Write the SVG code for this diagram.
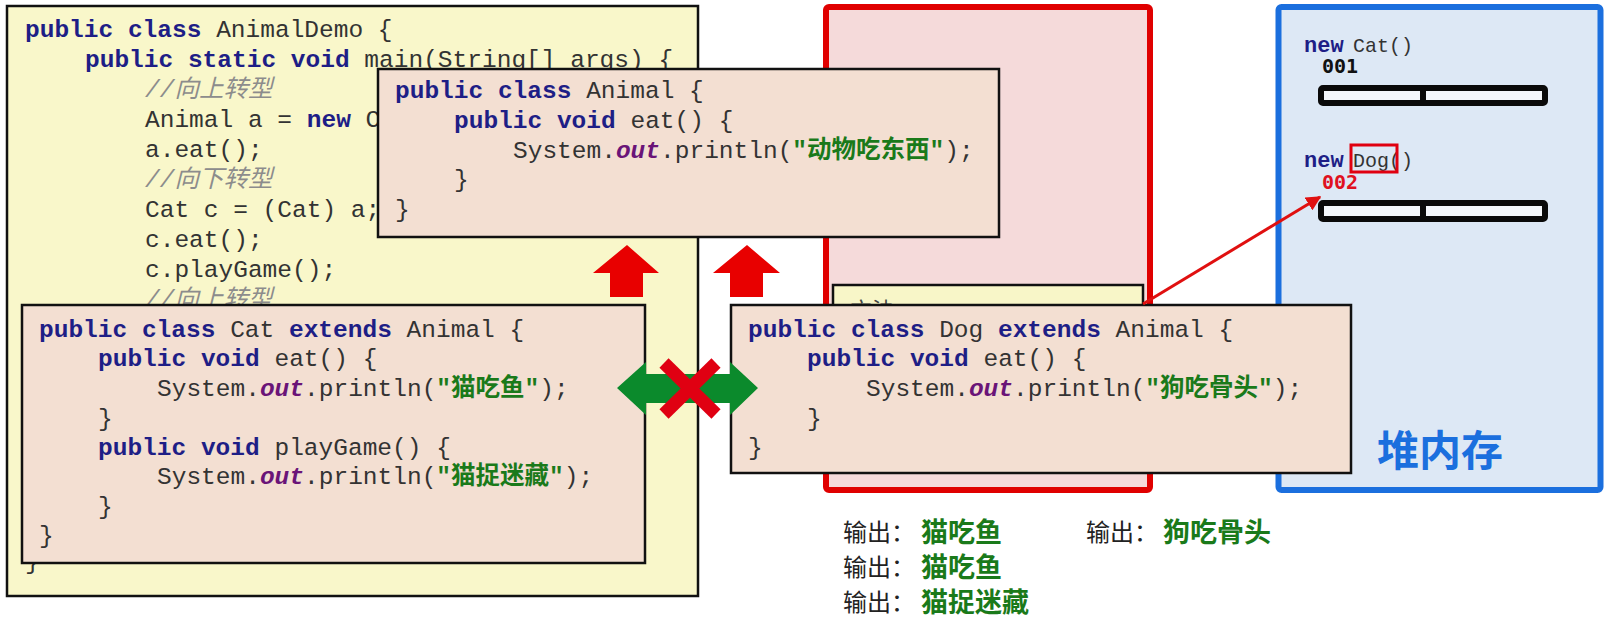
<svg xmlns="http://www.w3.org/2000/svg" width="1605" height="619" viewBox="0 0 1605 619">
<defs>
<style>
.box{stroke:#111;stroke-width:2.5}
.code{font-family:"Liberation Mono","Noto Sans CJK SC",monospace;font-size:24.5px;fill:#333}
.kw{font-weight:bold;fill:#1e1e86}
.o{font-weight:bold;font-style:italic;fill:#6a1478}
.s{font-weight:bold;fill:#1a7a1a}
.cm{font-style:italic;fill:#8c8c8c}
.lbl{font-family:"Noto Sans CJK SC",sans-serif;font-size:24px;fill:#222}
.res{font-family:"Noto Sans CJK SC",sans-serif;font-size:27px;font-weight:bold;fill:#1a7a1a}
.bar{fill:#f4f7fb;stroke:#0a0a0a;stroke-width:6}
.div{stroke:#0a0a0a;stroke-width:6}
.hn{font-family:"Liberation Mono",monospace;font-weight:bold;font-size:22px;fill:#1e1e86}
.hc{font-family:"Liberation Mono",monospace;font-size:21px;fill:#333}
.addr{font-family:"DejaVu Sans Mono",monospace;font-weight:bold;font-size:20px}
</style>
<marker id="ah" viewBox="0 0 10 10" refX="9" refY="5" markerWidth="5" markerHeight="5" orient="auto"><path d="M0,0 L10,5 L0,10 z" fill="#e01010"/></marker>
<clipPath id="hideMethod"><rect x="833" y="285" width="310" height="20"/></clipPath>
</defs>
<rect width="1605" height="619" fill="#ffffff"/>

<g id="animal-demo">
<rect class="box" x="7" y="6" width="691" height="590" fill="#f9f7ca"/>
<text class="code" x="25" y="37"><tspan class="kw">public class</tspan> AnimalDemo {</text>
<text class="code" x="85" y="67"><tspan class="kw">public static void</tspan> main(String[] args) {</text>
<text class="code cm" x="145" y="97">//向上转型</text>
<text class="code" x="145" y="127">Animal a = <tspan class="kw">new</tspan> Cat();</text>
<text class="code" x="145" y="157">a.eat();</text>
<text class="code cm" x="145" y="187">//向下转型</text>
<text class="code" x="145" y="217">Cat c = (Cat) a;</text>
<text class="code" x="145" y="247">c.eat();</text>
<text class="code" x="145" y="277">c.playGame();</text>
<text class="code cm" x="145" y="307">//向上转型</text>
<text class="code" x="25" y="569">}</text>
</g>

<g id="method-area">
<rect x="826" y="7" width="324" height="483" rx="3" fill="#f5dada" stroke="#e00000" stroke-width="6"/>
<rect class="box" x="833" y="285" width="310" height="60" fill="#f8f6c8"/>
<text x="850" y="318" font-family="Noto Sans CJK SC, sans-serif" font-size="22" fill="#444" clip-path="url(#hideMethod)">方法</text>
</g>

<g id="heap">
<rect x="1278.5" y="7" width="322" height="483" rx="3" fill="#dde8f5" stroke="#1b6fde" stroke-width="6"/>
<text class="hn" x="1304" y="52">new</text>
<text class="hc" x="1353" y="52" textLength="60" lengthAdjust="spacingAndGlyphs">Cat()</text>
<text class="addr" x="1322" y="73" fill="#111">001</text>
<rect class="bar" x="1321" y="88" width="224" height="15" rx="2"/>
<line class="div" x1="1423" y1="88" x2="1423" y2="103"/>
<text class="hn" x="1304" y="167">new</text>
<text class="hc" x="1353" y="167" textLength="60" lengthAdjust="spacingAndGlyphs">Dog()</text>
<rect x="1351" y="145" width="46" height="27" fill="none" stroke="#e00010" stroke-width="3"/>
<text class="addr" x="1322" y="189" fill="#e01020">002</text>
<rect class="bar" x="1321" y="203" width="224" height="16" rx="2"/>
<line class="div" x1="1423" y1="203" x2="1423" y2="219"/>
<text x="1377" y="466" font-family="Noto Sans CJK SC, sans-serif" font-weight="bold" font-size="42" fill="#1b6fde">堆内存</text>
</g>

<g id="animal">
<rect class="box" x="378" y="69" width="621" height="168" fill="#f3dfd2"/>
<text class="code" x="395" y="98"><tspan class="kw">public class</tspan> Animal {</text>
<text class="code" x="454" y="128"><tspan class="kw">public void</tspan> eat() {</text>
<text class="code" x="513" y="157.5">System.<tspan class="o">out</tspan>.println(<tspan class="s">"动物吃东西"</tspan>);</text>
<text class="code" x="454" y="187">}</text>
<text class="code" x="395" y="217">}</text>
</g>

<g id="cat">
<rect class="box" x="22" y="305" width="623" height="258" fill="#f3dfd2"/>
<text class="code" x="39" y="337"><tspan class="kw">public class</tspan> Cat <tspan class="kw">extends</tspan> Animal {</text>
<text class="code" x="98" y="366"><tspan class="kw">public void</tspan> eat() {</text>
<text class="code" x="157" y="396">System.<tspan class="o">out</tspan>.println(<tspan class="s">"猫吃鱼"</tspan>);</text>
<text class="code" x="98" y="425.5">}</text>
<text class="code" x="98" y="455"><tspan class="kw">public void</tspan> playGame() {</text>
<text class="code" x="157" y="484">System.<tspan class="o">out</tspan>.println(<tspan class="s">"猫捉迷藏"</tspan>);</text>
<text class="code" x="98" y="514">}</text>
<text class="code" x="39" y="543">}</text>
</g>

<g id="dog">
<rect class="box" x="731" y="305" width="620" height="168" fill="#f3dfd2"/>
<text class="code" x="748" y="337"><tspan class="kw">public class</tspan> Dog <tspan class="kw">extends</tspan> Animal {</text>
<text class="code" x="807" y="366"><tspan class="kw">public void</tspan> eat() {</text>
<text class="code" x="866" y="396">System.<tspan class="o">out</tspan>.println(<tspan class="s">"狗吃骨头"</tspan>);</text>
<text class="code" x="807" y="425.5">}</text>
<text class="code" x="748" y="455">}</text>
</g>

<g id="outputs">
<text class="lbl" x="843" y="541">输出：</text><text class="res" x="921" y="542">猫吃鱼</text>
<text class="lbl" x="1086" y="541">输出：</text><text class="res" x="1163" y="542">狗吃骨头</text>
<text class="lbl" x="843" y="576">输出：</text><text class="res" x="921" y="577">猫吃鱼</text>
<text class="lbl" x="843" y="611">输出：</text><text class="res" x="921" y="612">猫捉迷藏</text>
</g>

<g id="connectors">
<path d="M627,245 L659,273 L643,273 L643,297 L610,297 L610,273 L593,273 Z" fill="#e80000"/>
<path d="M747,245 L780,273 L763,273 L763,297 L730,297 L730,273 L713,273 Z" fill="#e80000"/>
<polygon points="617,388 646,362 646,374 730,374 730,362 758,388 730,415 730,403 646,403 646,415" fill="#0b8a2c"/>
<line x1="664" y1="363" x2="716" y2="414" stroke="#e00012" stroke-width="13"/>
<line x1="664" y1="414" x2="716" y2="363" stroke="#e00012" stroke-width="13"/>
<line x1="1143" y1="304" x2="1320" y2="197" stroke="#e01010" stroke-width="3" marker-end="url(#ah)"/>
</g>
</svg>
